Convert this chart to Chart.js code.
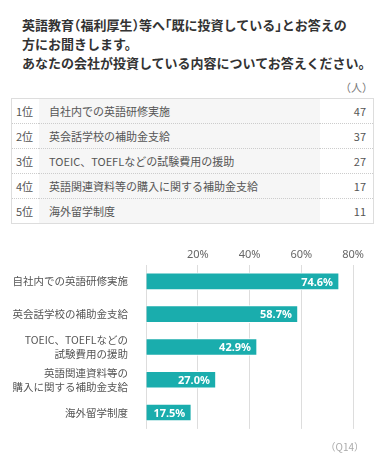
<!DOCTYPE html>
<html lang="ja">
<head>
<meta charset="utf-8">
<script src="https://cdn.jsdelivr.net/npm/chart.js@4.4.1/dist/chart.umd.min.js"></script>
<style>
  body { margin: 0; width: 384px; height: 466px; background: #fff; position: relative; overflow: hidden;
         font-family: "Noto Sans CJK JP", "Noto Sans", sans-serif; color: #555; }
  .title { position: absolute; left: 22px; top: 15px; font-size: 13px; font-weight: bold; line-height: 19px; color: #333; }
  .title span { font-feature-settings: "halt"; }
  .unit { position: absolute; right: 11px; top: 79px; font-size: 11px; color: #777; }
  table { position: absolute; left: 11px; top: 98px; width: 363px; border-collapse: collapse;
          border: 1px solid #ddd; font-size: 11px; color: #555; }
  td { height: 24px; padding: 0; border-bottom: 1px dotted #ccc; }
  td.rank { width: 23px; padding-left: 4px; }
  td.label { background: #f6f6f6; padding-left: 10px; }
  td.val { width: 46px; text-align: right; padding-right: 7px; }
  #wrap { position: absolute; left: 0; top: 240px; width: 384px; height: 206px; }
  .q { position: absolute; right: 20px; top: 439px; font-size: 10px; color: #aaa; }
</style>
</head>
<body>
<div class="title">英語教育<span>（</span>福利厚生<span>）</span>等へ<span>「</span>既に投資している<span>」</span>とお答えの<br>方にお聞きします。<br>あなたの会社が投資している内容についてお答えください。</div>
<div class="unit">（人）</div>
<table id="tbl"></table>
<div id="wrap"><canvas id="grafico"></canvas></div>
<div class="q">（Q14）</div>
<script>
// dados do ranking
const ranks = ['1位', '2位', '3位', '4位', '5位'];
const itens = ['自社内での英語研修実施', '英会話学校の補助金支給', 'TOEIC、TOEFLなどの試験費用の援助', '英語関連資料等の購入に関する補助金支給', '海外留学制度'];
const pessoas = [47, 37, 27, 17, 11];

// rótulos do gráfico (quebra de linha)
const rotulos = [
    ['自社内での英語研修実施'],
    ['英会話学校の補助金支給'],
    ['TOEIC、TOEFLなどの', '試験費用の援助'],
    ['英語関連資料等の', '購入に関する補助金支給'],
    ['海外留学制度']
];
const percentuais = [74.6, 58.7, 42.9, 27.0, 17.5];
const ticksX = [20, 40, 60, 80];

// monta a tabela
const tbl = document.getElementById('tbl');
ranks.forEach((r, i) => {
    const tr = document.createElement('tr');
    tr.innerHTML = `<td class="rank">${r}</td><td class="label">${itens[i]}</td><td class="val">${pessoas[i]}</td>`;
    tbl.appendChild(tr);
});

// plugin simples para escrever os valores dentro das barras
const rotuloBarra = {
    id: 'rotuloBarra',
    afterDatasetsDraw(chart) {
        const ctx = chart.ctx;
        const meta = chart.getDatasetMeta(0);
        ctx.save();
        ctx.fillStyle = '#fff';
        ctx.font = 'bold 11px "Noto Sans", "Noto Sans CJK JP", sans-serif';
        ctx.textAlign = 'right';
        ctx.textBaseline = 'middle';
        meta.data.forEach((bar, i) => {
            ctx.fillText(percentuais[i].toFixed(1) + '%', bar.x - 6, bar.y + 1);
        });
        ctx.restore();
    }
};

const ctx = document.getElementById('grafico').getContext('2d');
new Chart(ctx, {
    type: 'bar',
    data: {
        labels: rotulos,
        datasets: [{
            data: percentuais,
            backgroundColor: '#1aadad',
            borderColor: '#fff',
            borderWidth: 1,
            barThickness: 17
        }]
    },
    options: {
        indexAxis: 'y',
        responsive: true,
        maintainAspectRatio: false,
        animation: false,
        layout: { padding: { right: 31, bottom: 0 } },
        plugins: { legend: { display: false }, tooltip: { enabled: false } },
        scales: {
            x: {
                position: 'top',
                min: 0,
                max: 80,
                afterBuildTicks: scale => {
                    scale.ticks = [0].concat(ticksX).map(v => ({ value: v }));
                },
                afterFit: scale => { scale.height = 25; },
                ticks: {
                    padding: 4,
                    color: '#666',
                    font: { size: 11, family: '"Noto Sans", sans-serif' },
                    callback: v => v === 0 ? '' : v + '%'
                },
                grid: { color: '#ddd', drawTicks: false },
                border: { display: false }
            },
            y: {
                afterFit: scale => { scale.width = 146; },
                ticks: {
                    autoSkip: false,
                    padding: 10,
                    color: '#555',
                    font: { size: 10.5, family: '"Noto Sans CJK JP", sans-serif', lineHeight: 1.35 }
                },
                grid: { display: false },
                border: { display: false }
            }
        }
    },
    plugins: [rotuloBarra]
});
</script>
</body>
</html>
